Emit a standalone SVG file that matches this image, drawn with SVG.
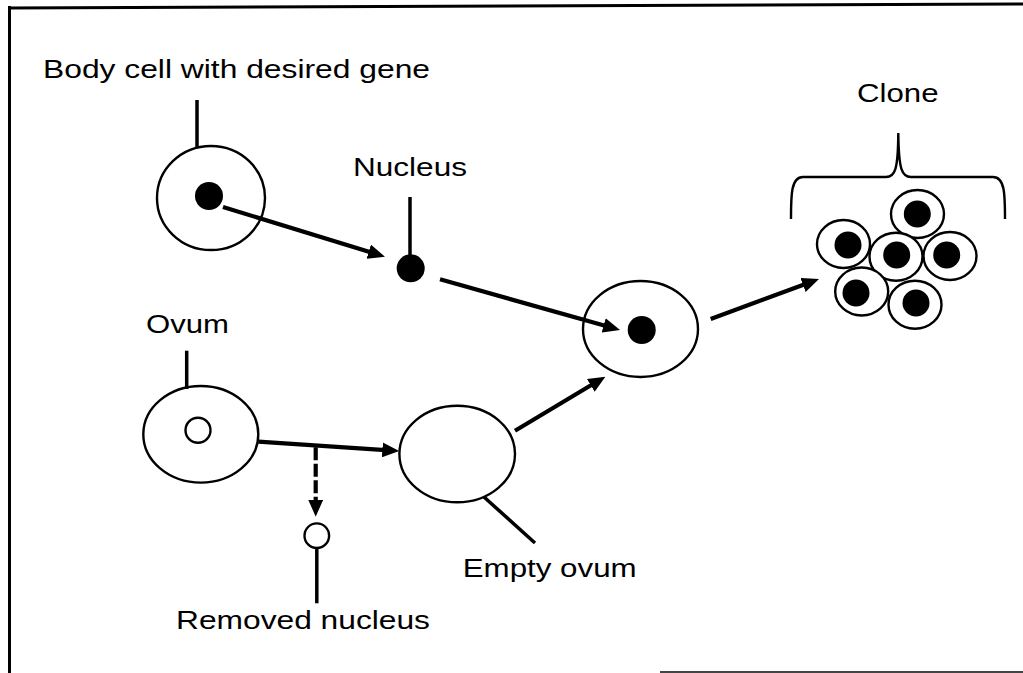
<svg xmlns="http://www.w3.org/2000/svg" width="1023" height="673" viewBox="0 0 1023 673">
<style>
text{font-family:"Liberation Sans",Arial,sans-serif;font-size:26px;fill:#000}
.cell{fill:#fff;stroke:#000;stroke-width:2.4}
.dot{fill:#000}
.lbl{stroke:#000;stroke-width:3.5;fill:none}
.arr{stroke:#000;stroke-width:4.2;fill:none}
.dash{stroke:#000;stroke-width:4.2;fill:none;stroke-dasharray:13 3.5}
</style>
<defs>
<marker id="ah" viewBox="0 0 17 15" refX="7" refY="7.5" markerWidth="17" markerHeight="15" markerUnits="userSpaceOnUse" orient="auto">
<path d="M0,0 L17,7.5 L0,15 z" fill="#000"/>
</marker>
</defs>
<rect width="1023" height="673" fill="#fff"/>
<g id="frame" fill="none" stroke="#000">
<line x1="9.5" y1="6" x2="9.5" y2="673" stroke-width="3"/>
<line x1="8" y1="8" x2="1023" y2="4" stroke-width="3"/>
<line x1="660" y1="672" x2="1023" y2="672" stroke-width="2" stroke="#444"/>
</g>
<g id="body-cell">
<ellipse class="cell" cx="211" cy="198" rx="54" ry="52"/>
<circle class="dot" cx="209" cy="196" r="14"/>
<line class="lbl" x1="197" y1="100" x2="197" y2="148"/>
<text x="43" y="78" textLength="387" lengthAdjust="spacingAndGlyphs">Body cell with desired gene</text>
</g>
<g id="nucleus">
<circle class="dot" cx="410.7" cy="268.3" r="14"/>
<line class="lbl" x1="410" y1="197" x2="410" y2="258"/>
<text x="353" y="176" textLength="114" lengthAdjust="spacingAndGlyphs">Nucleus</text>
</g>
<g id="ovum">
<ellipse class="cell" cx="200.8" cy="434.3" rx="57.5" ry="48.3"/>
<circle class="cell" cx="198" cy="430.3" r="12.5"/>
<line class="lbl" x1="186.7" y1="350.7" x2="186.7" y2="389"/>
<text x="146" y="333.3" textLength="83" lengthAdjust="spacingAndGlyphs">Ovum</text>
</g>
<g id="removed-nucleus">
<circle class="cell" cx="316.8" cy="535.7" r="12.3"/>
<line class="lbl" x1="316.8" y1="548" x2="316.8" y2="603.3"/>
<text x="176" y="629" textLength="254" lengthAdjust="spacingAndGlyphs">Removed nucleus</text>
</g>
<g id="empty-ovum">
<ellipse class="cell" cx="457.2" cy="454" rx="57.8" ry="48.3"/>
<line class="lbl" x1="484" y1="497" x2="535" y2="543"/>
<text x="462.7" y="576.7" textLength="174" lengthAdjust="spacingAndGlyphs">Empty ovum</text>
</g>
<g id="fused-cell">
<ellipse class="cell" cx="640.5" cy="329" rx="57.5" ry="48"/>
<circle class="dot" cx="641.7" cy="330" r="14"/>
</g>
<g id="clone">
<text x="857" y="101.5" textLength="81.5" lengthAdjust="spacingAndGlyphs">Clone</text>
<path d="M791,219 C791,195 791,177 803,177 L886,177 C895,177 898,170 898.3,133 C898.7,170 902,177 911,177 L993,177 C1005,177 1005,195 1005,219" fill="none" stroke="#000" stroke-width="2.4"/>
<ellipse class="cell" cx="917.5" cy="214" rx="26.5" ry="24"/>
<circle class="dot" cx="917.3" cy="214" r="13.5"/>
<ellipse class="cell" cx="843.5" cy="244" rx="26.5" ry="24"/>
<circle class="dot" cx="848" cy="245" r="13.5"/>
<ellipse class="cell" cx="896" cy="256.7" rx="26.5" ry="24"/>
<circle class="dot" cx="896.7" cy="255" r="13.5"/>
<ellipse class="cell" cx="950" cy="256" rx="26.5" ry="24"/>
<circle class="dot" cx="946.7" cy="255" r="13.5"/>
<ellipse class="cell" cx="861.7" cy="291.5" rx="26.5" ry="24"/>
<circle class="dot" cx="856" cy="293" r="13.5"/>
<ellipse class="cell" cx="915" cy="304.7" rx="26.5" ry="24"/>
<circle class="dot" cx="916" cy="303" r="13.5"/>
</g>
<g id="connectors">
<line class="arr" x1="223" y1="207" x2="375.4" y2="253.8" marker-end="url(#ah)"/>
<line class="arr" x1="440" y1="279.3" x2="610.4" y2="327.3" marker-end="url(#ah)"/>
<line class="arr" x1="710.7" y1="319" x2="809.6" y2="282.5" marker-end="url(#ah)"/>
<line class="arr" x1="258.3" y1="441.7" x2="389.3" y2="450.4" marker-end="url(#ah)"/>
<line class="arr" x1="515" y1="430.7" x2="596.8" y2="381.8" marker-end="url(#ah)"/>
<line class="dash" x1="315.7" y1="447.3" x2="315.7" y2="506.7" marker-end="url(#ah)"/>
</g>
</svg>
